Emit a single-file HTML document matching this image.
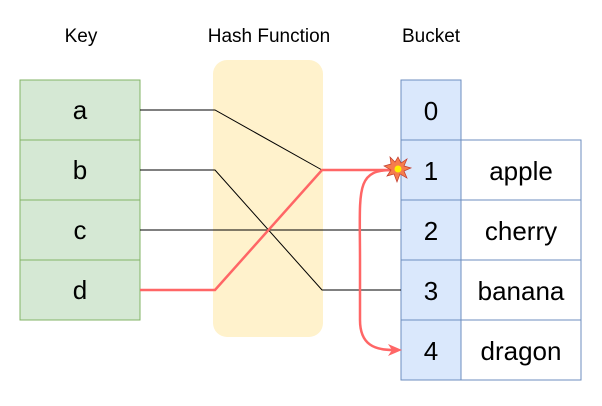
<!DOCTYPE html>
<html><head><style>
body{margin:0;background:#fff;width:602px;height:401px;overflow:hidden;font-family:"Liberation Sans",sans-serif}
</style></head><body>
<svg width="602" height="401" viewBox="0 0 602 401" xmlns="http://www.w3.org/2000/svg" font-family="Liberation Sans, sans-serif">
<text x="81" y="42" font-size="19" text-anchor="middle">Key</text>
<text x="269" y="42" font-size="19" text-anchor="middle">Hash Function</text>
<text x="431" y="42" font-size="19" text-anchor="middle">Bucket</text>
<rect x="213" y="60" width="110" height="277" rx="14" fill="#fff2cc"/>
<g fill="#d5e8d4" stroke="#82b366">
<rect x="20" y="80" width="120" height="60"/><rect x="20" y="140" width="120" height="60"/>
<rect x="20" y="200" width="120" height="60"/><rect x="20" y="260" width="120" height="60"/>
</g>
<g font-size="26" text-anchor="middle">
<text x="80" y="119">a</text><text x="80" y="179">b</text><text x="80" y="239">c</text><text x="80" y="299">d</text>
</g>
<g fill="#dae8fc" stroke="#6c8ebf">
<rect x="401" y="80" width="60" height="60"/><rect x="401" y="140" width="60" height="60"/>
<rect x="401" y="200" width="60" height="60"/><rect x="401" y="260" width="60" height="60"/><rect x="401" y="320" width="60" height="60"/>
</g>
<g fill="#fff" stroke="#6c8ebf">
<rect x="461" y="140" width="120" height="60"/><rect x="461" y="200" width="120" height="60"/>
<rect x="461" y="260" width="120" height="60"/><rect x="461" y="320" width="120" height="60"/>
</g>
<g font-size="26" text-anchor="middle">
<text x="431" y="120">0</text><text x="431" y="180">1</text><text x="431" y="240">2</text><text x="431" y="300">3</text><text x="431" y="360">4</text>
<text x="521" y="180">apple</text><text x="521" y="240">cherry</text><text x="521" y="300">banana</text><text x="521" y="360">dragon</text>
</g>
<g fill="none" stroke="#000" stroke-width="1">
<polyline points="140,110 215,110 322,170"/>
<polyline points="140,170 215,170 322,290 401,290"/>
<line x1="140" y1="230" x2="401" y2="230"/>
</g>
<g fill="none" stroke="#ff6666" stroke-width="2.5">
<polyline points="140,290 215,290 322,170 392,170"/>
<path d="M392,170 C355,170 360,190 360,260 L360,320 C360,345 375,350 393,350"/>
</g>
<path d="M402,350 L388,344 L392,350 L388,356 Z" fill="#ff6666"/>
<polygon points="398,157 401,163 407,159 404,166 411,168 404,171 407,178 400,174 397,182 394,174 387,176 391,170 384,166 391,164 390,157 395,162" fill="#f57c4d" stroke="#c0392b" stroke-width="0.7"/>
<circle cx="398" cy="169" r="3.5" fill="#ffee00"/>
</svg>
</body></html>
